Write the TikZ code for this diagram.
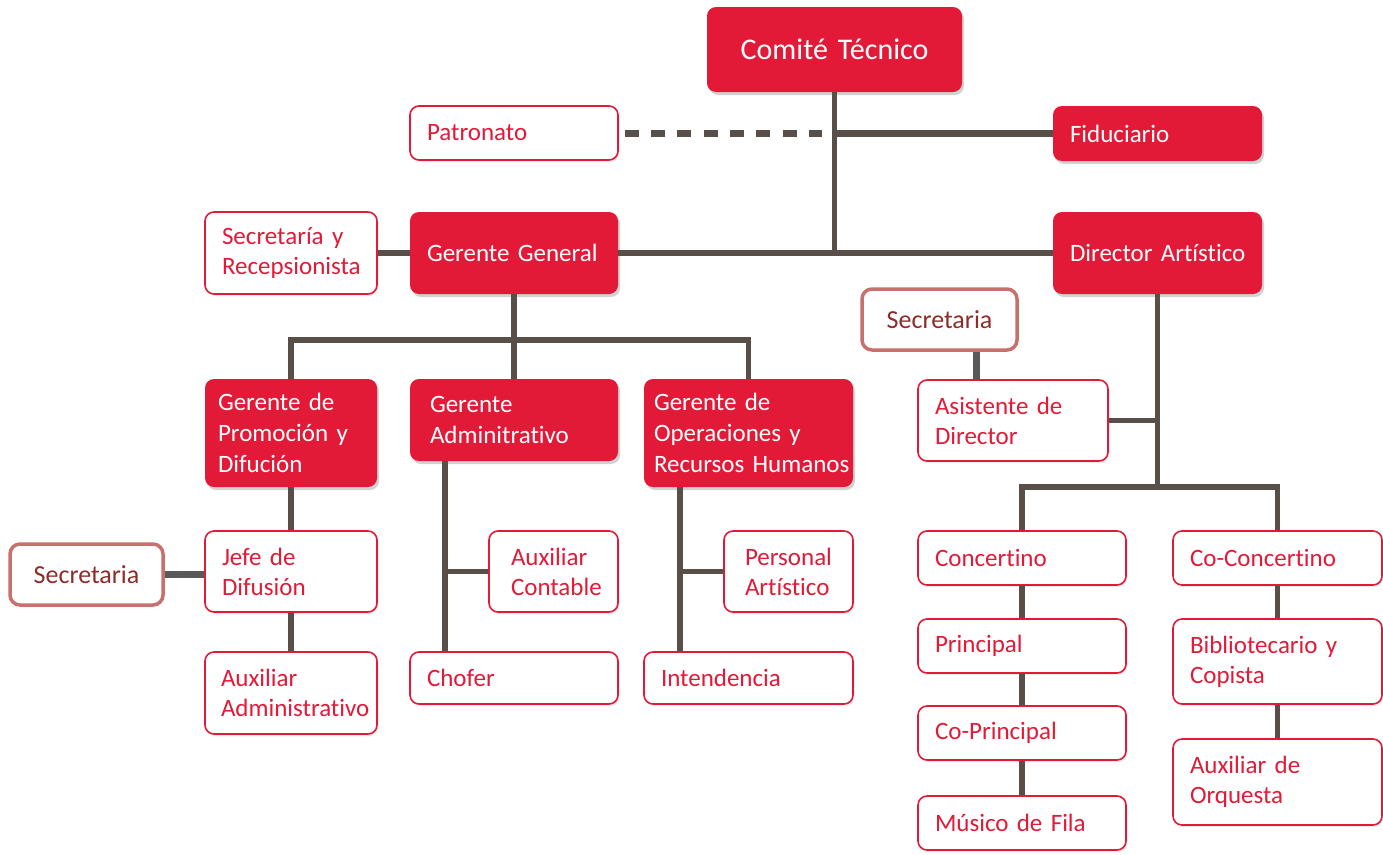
\documentclass[tikz,border=0pt]{standalone}
\usepackage{fontspec}
\setmainfont{Carlito}[WordSpace=0.85,Ligatures=CommonOff]
\usetikzlibrary{shadows}
\definecolor{ored}{RGB}{226,26,56}
\definecolor{lcol}{RGB}{88,80,72}
\definecolor{sborder}{RGB}{200,112,108}
\definecolor{stext}{RGB}{140,45,42}
\definecolor{sline}{RGB}{89,89,89}
\tikzset{
 base/.style={rounded corners=9pt, inner sep=0pt, align=left, font=\fontsize{25}{31}\selectfont, execute at begin node={\hyphenpenalty=10000\exhyphenpenalty=10000}},
 redbox/.style={base, fill=ored, text=white, drop shadow={shadow xshift=2pt, shadow yshift=-3pt, opacity=0.35}},
 whitebox/.style={base, draw=ored, line width=1.6pt, fill=white, text=ored, font=\fontsize{25}{30}\selectfont, drop shadow={shadow xshift=1.5pt, shadow yshift=-2pt, opacity=0.15}},
 secbox/.style={rounded corners=10pt, inner sep=0pt, align=center, draw=sborder, line width=3.5pt, fill=white, text=stext, font=\fontsize{26}{31}\selectfont},
 conn/.style={draw=lcol, line width=5.5pt},
 sconn/.style={draw=sline, line width=7pt},
 dashconn/.style={draw=lcol, line width=7pt, dash pattern=on 14pt off 12.3pt},
}
\newcommand\bx[8][17]{%
 \pgfmathsetmacro\bxw{#5-#3}%
 \pgfmathsetmacro\bxh{#6-#4}%
 \pgfmathsetmacro\bxt{#5-#3-2*#1}%
 \node[#7, minimum width=\bxw pt, minimum height=\bxh pt, text width=\bxt pt] (#2) at ({(#3+#5)/2},{(#4+#6)/2}) {#8};}
\begin{document}
\begin{tikzpicture}[x=1pt,y=-1pt]
\fill[white] (0,0) rectangle (1383,854);
\useasboundingbox (0,0) rectangle (1383,854);

\bx{ct}{707}{7}{962}{92}{redbox,align=center,font=\fontsize{30}{36}\selectfont}{Comité Técnico}
\bx{pa}{410}{106}{618}{160}{whitebox}{Patronato}
\bx{fi}{1053}{106}{1262}{161}{redbox}{Fiduciario}
\bx{sr}{205}{212}{377}{294}{whitebox}{Secretaría y\\Recepsionista}
\bx{gg}{410}{212}{618}{294}{redbox}{\mbox{Gerente General}}
\bx{da}{1053}{212}{1262}{294}{redbox}{\mbox{Director Artístico}}
\bx[0]{s2}{862}{289}{1017}{350}{secbox}{Secretaria}
\bx{ad}{918}{380}{1108}{461}{whitebox}{Asistente de\\Director}
\bx[13]{gp}{205}{379}{377}{487}{redbox}{Gerente de\\Promoción y\\Difución}
\bx[20]{ga}{410}{379}{618}{461}{redbox}{Gerente\\Adminitrativo}
\bx[10]{go}{644}{379}{853}{487}{redbox}{Gerente de\\Operaciones y\\\mbox{Recursos Humanos}}
\bx{jd}{205}{531}{377}{612}{whitebox}{Jefe de\\Difusión}
\bx[0]{sl}{10}{544}{163}{605}{secbox}{Secretaria}
\bx[22]{ac}{489}{531}{618}{612}{whitebox}{Auxiliar\\Contable}
\bx[21]{ps}{724}{531}{853}{612}{whitebox}{Personal\\Artístico}
\bx[16]{aa}{205}{652}{377}{734}{whitebox}{Auxiliar\\\mbox{Administrativo}}
\bx{ch}{410}{652}{618}{704}{whitebox}{Chofer}
\bx{it}{644}{652}{853}{704}{whitebox}{Intendencia}
\bx{co}{918}{531}{1126}{585}{whitebox}{Concertino}
\bx{cc}{1173}{531}{1382}{585}{whitebox}{Co-Concertino}
\bx{pr}{918}{619}{1126}{673}{whitebox}{Principal}
\bx{cp}{918}{706}{1126}{760}{whitebox}{Co-Principal}
\bx{mf}{918}{796}{1126}{850}{whitebox}{\mbox{Músico de Fila}}
\bx{bc}{1173}{619}{1382}{704}{whitebox}{\mbox{Bibliotecario y}\\Copista}
\bx{ao}{1173}{739}{1382}{825}{whitebox}{Auxiliar de\\Orquesta}

\coordinate (bg) at (514,340);
\coordinate (bd) at (1158,487);
\coordinate (va) at ([xshift=35pt]ga.south west);
\coordinate (vo) at ([xshift=36pt]go.south west);
\coordinate (vs) at ([xshift=59pt]ad.north west);
\coordinate (pe) at ([xshift=-12.5pt]ct.south |- pa.east);

\draw[conn] (ct.south) -- (ct.south |- gg.east);
\draw[conn] (gg.east) -- (da.west);
\draw[conn, line width=6.5pt] (ct.south |- fi.west) -- (fi.west);
\draw[dashconn] ([xshift=6pt]pa.east) -- (pe);
\draw[conn] (sr.east) -- (gg.west);
\draw[conn] (gg.south) -- (ga.north);
\draw[conn] (gp.north) |- (bg) -| (go.north);
\draw[conn] (gp.south) -- (jd.north);
\draw[conn] (jd.south) -- (aa.north);
\draw[sconn] (sl.east) -- (sl.east -| jd.west);
\draw[conn] (va) -- (va |- ch.north);
\draw[conn] (va |- ac.west) -- (ac.west);
\draw[conn] (vo) -- (vo |- it.north);
\draw[conn] (vo |- ps.west) -- (ps.west);
\draw[conn] (da.south) -- (da.south |- bd);
\draw[conn] (da.south |- ad.east) -- (ad.east);
\draw[conn] (co.north) |- (bd) -| (cc.north);
\draw[sconn] (vs) -- (vs |- s2.south);
\draw[conn] (co.south) -- (pr.north);
\draw[conn] (pr.south) -- (cp.north);
\draw[conn] (cp.south) -- (mf.north);
\draw[conn] (cc.south) -- (bc.north);
\draw[conn] (bc.south) -- (ao.north);
\end{tikzpicture}
\end{document}
